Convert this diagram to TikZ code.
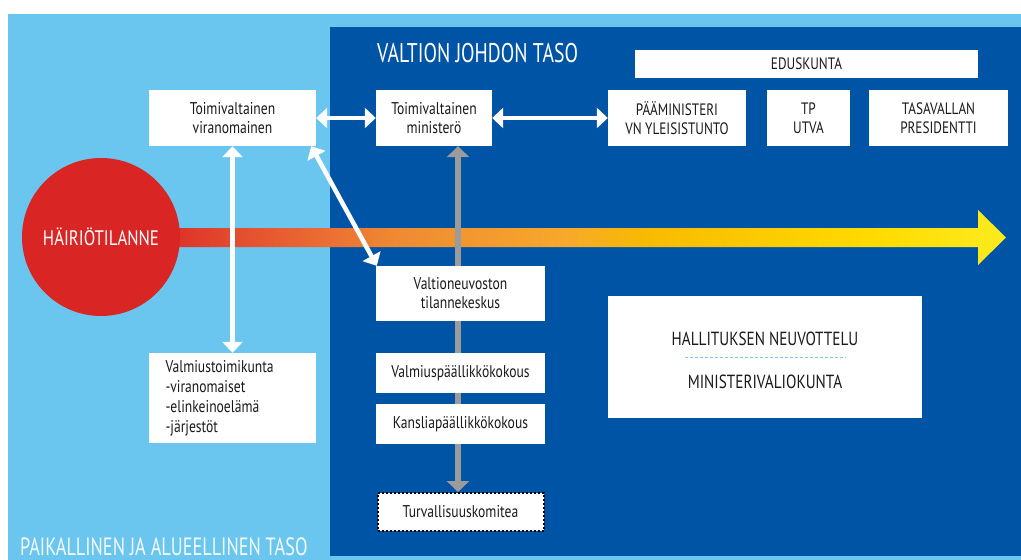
\documentclass[tikz,border=0pt]{standalone}
\usepackage{fontspec}
\setmainfont{PT Sans}[FakeStretch=0.8]
\newfontfamily\titlefont{PT Sans}[FakeStretch=0.73]
\usetikzlibrary{arrows.meta,calc}
\definecolor{lightbg}{HTML}{6AC6EE}
\definecolor{darkbg}{HTML}{0054A6}
\definecolor{circred}{HTML}{D92524}
\definecolor{grayarr}{HTML}{9B9B9B}
\definecolor{txt}{HTML}{1A1A1A}
\definecolor{sepblue}{HTML}{7FCBEF}
\definecolor{gA}{HTML}{DC2D27}
\definecolor{gB}{HTML}{E4502F}
\definecolor{gC}{HTML}{EB6F33}
\definecolor{gD}{HTML}{EF8A33}
\definecolor{gE}{HTML}{F6A92A}
\definecolor{gF}{HTML}{F8BB00}
\definecolor{gG}{HTML}{FFDA00}
\definecolor{gH}{HTML}{FCEB1E}
\pgfdeclarehorizontalshading{bigarrow}{100bp}{color(0bp)=(gA); color(25bp)=(gA); color(30bp)=(gB); color(35bp)=(gC); color(39bp)=(gD); color(49bp)=(gE); color(54bp)=(gF); color(67bp)=(gG); color(75bp)=(gH); color(100bp)=(gH)}
\tikzset{
  box/.style={fill=white, inner sep=0pt, align=center, font=\fontsize{17}{19}\selectfont, text=txt},
  capsbox/.style={box, font=\fontsize{16.5}{19}\selectfont},
  whitearr/.style={draw=white, line width=4.5pt, {Triangle[width=20pt,length=11pt]}-{Triangle[width=20pt,length=11pt]}},
  grayarrow/.style={draw=grayarr, line width=6pt, {Triangle[width=22pt,length=11pt]}-{Triangle[width=22pt,length=11pt]}},
  leveltext/.style={text=white, inner sep=0pt, anchor=base west, font=\titlefont\fontsize{27}{30}\selectfont}
}
\begin{document}
\begin{tikzpicture}[x=1pt,y=-1pt]
\useasboundingbox (0,0) rectangle (1021,560);
\fill[white] (0,0) rectangle (1021,560);
\fill[lightbg] (8,14) rectangle (1021,560);
\fill[darkbg] (330,27) rectangle (1021,556);
% big gradient arrow
\shade[shading=bigarrow] (160,228) -- (978,228) -- (978,210) -- (1006,237.5) -- (978,265) -- (978,247) -- (160,247) -- cycle;
% level titles
\node[leveltext] (vjt) at (377,62) {VALTION JOHDON TASO};
\node[leveltext, text=white!92!lightbg, font=\titlefont\fontsize{25}{28}\selectfont] (pat) at (20,555) {PAIKALLINEN JA ALUEELLINEN TASO};
% circle
\node[circle, fill=circred, minimum size=158pt, inner sep=0pt, text=white, font=\fontsize{21}{24}\selectfont] (hairio) at (101,237) {HÄIRIÖTILANNE};
% boxes
\node[box, minimum width=167pt, minimum height=56pt] (vir) at (232.5,118) {Toimivaltainen\\viranomainen};
\node[box, minimum width=116pt, minimum height=56pt] (min) at (434,118) {Toimivaltainen\\ministerö};
\node[capsbox, minimum width=138pt, minimum height=56pt] (pm) at (677,118) {PÄÄMINISTERI\\VN YLEISISTUNTO};
\node[capsbox, minimum width=83pt, minimum height=56pt] (tp) at (808.5,118) {TP\\UTVA};
\node[capsbox, minimum width=139pt, minimum height=56pt] (pres) at (938.5,118) {TASAVALLAN\\PRESIDENTTI};
\node[capsbox, minimum width=343pt, minimum height=28pt] (edus) at (806.5,64) {EDUSKUNTA};
\node[box, draw=black, dash pattern=on 2pt off 2pt, line width=2pt, minimum width=166pt, minimum height=38pt] (tur) at (460.5,512) {Turvallisuuskomitea};
% gray arrow (behind the middle boxes)
\coordinate (gtop) at ($(min.south -| 458,0)$);
\coordinate (gbot) at ($(tur.north -| 458,0)$);
\draw[grayarrow] (gbot) -- (gtop);
\node[box, minimum width=169pt, minimum height=55pt] (tk) at (460.5,293.5) {Valtioneuvoston\\tilannekeskus};
\node[box, minimum width=169pt, minimum height=40pt] (vpk) at (460.5,373) {Valmiuspäällikkökokous};
\node[box, minimum width=169pt, minimum height=40pt] (kpk) at (460.5,424) {Kansliapäällikkökokous};
\node[box, minimum width=167pt, minimum height=90pt, align=left, text width=134pt, font=\fontsize{17}{20}\selectfont] (vtk) at (232.5,398) {Valmiustoimikunta\\-viranomaiset\\-elinkeinoelämä\\-järjestöt};
\node[box, minimum width=314pt, minimum height=122pt] (hall) at (765,357) {};
\node[capsbox, anchor=base, font=\fontsize{19}{22}\selectfont] (hn) at (765,345) {HALLITUKSEN NEUVOTTELU};
\node[capsbox, anchor=base, font=\fontsize{19}{22}\selectfont] (mv) at (765,388) {MINISTERIVALIOKUNTA};
\draw[sepblue, dash pattern=on 3pt off 2pt, line width=0.8pt] (hall.center -| 685,0) -- (hall.center -| 846,0);
% white arrows
\draw[whitearr] (vir.east) -- (min.west);
\draw[whitearr] (min.east) -- (pm.west);
\draw[whitearr] (vir.south) -- (vtk.north);
\draw[whitearr] ([xshift=-5pt]vir.south east) -- ([xshift=1pt]tk.north west);
\end{tikzpicture}
\end{document}
